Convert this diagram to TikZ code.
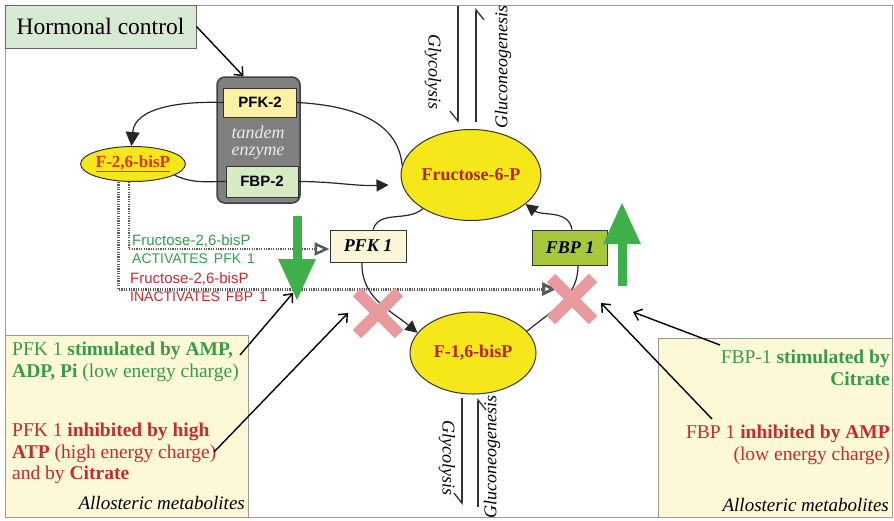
\documentclass[tikz,border=0pt]{standalone}
\usepackage{fontspec}
\setmainfont{Liberation Serif}
\setsansfont{Liberation Sans}
\usepackage{tikz}
\usetikzlibrary{arrows.meta,shapes.geometric,shapes.misc}
\definecolor{framegray}{HTML}{9A9A9A}
\definecolor{hormgreen}{HTML}{D7E9D2}
\definecolor{enzgray}{HTML}{808080}
\definecolor{pfkyellow}{HTML}{FBF1A6}
\definecolor{fbpgreen}{HTML}{D6EBC4}
\definecolor{metyellow}{HTML}{F6E71A}
\definecolor{bisred}{HTML}{E0301E}
\definecolor{sugarred}{HTML}{B8231A}
\definecolor{pfkcream}{HTML}{FAF6D8}
\definecolor{fbpolive}{HTML}{A5C83C}
\definecolor{crosspink}{HTML}{E89A9C}
\definecolor{upgreen}{HTML}{3DB04A}
\definecolor{txtgreen}{HTML}{3A9A4C}
\definecolor{txtred}{HTML}{C82A30}
\definecolor{notecream}{HTML}{FDF8D6}
\definecolor{dotgray}{HTML}{5A5A5A}

\begin{document}
\begin{tikzpicture}[x=1pt,y=-1pt,
  enzbox/.style={draw=black!80,line width=1pt,inner sep=0pt,font=\sffamily\bfseries\fontsize{15}{15}\selectfont},
  sugar/.style={ellipse,draw=black!80,line width=1pt,fill=metyellow,inner sep=0pt,text=sugarred,font=\bfseries\fontsize{18}{18}\selectfont},
  pfkbox/.style={draw=black!80,line width=1pt,inner sep=0pt,font=\bfseries\itshape\fontsize{18}{18}\selectfont},
  cyc/.style={black!85,line width=1.2pt},
  solidhead/.style={-{Triangle[length=12pt,width=12pt]}},
  pointer/.style={black,line width=1.4pt,-{Straight Barb[length=7pt,width=12pt]}},
  actline/.style={dotgray,line width=2.5pt,dash pattern=on 1.2pt off 1.2pt,-{Triangle[open,length=15pt,width=13pt]}},
  fatarrow/.style={upgreen,line width=9pt,-{Triangle[length=42pt,width=35pt]}},
  halfbarb/.style={black!80,line width=1.3pt,-{Straight Barb[harpoon,swap,length=10pt,width=16pt]}},
  crossmark/.style={cross out,draw=crosspink,line width=12pt,minimum size=30pt,inner sep=0pt},
  note/.style={draw=framegray,line width=1pt,fill=notecream},
  notetxt/.style={inner sep=0pt,font=\fontsize{19.5}{21.8}\selectfont},
  sanstxt/.style={anchor=base west,inner sep=0pt,font=\sffamily\fontsize{15}{15}\selectfont},
  capstxt/.style={anchor=base west,inner sep=0pt,font=\sffamily\fontsize{14}{14}\selectfont},
  pathlbl/.style={inner sep=0pt,font=\itshape\fontsize{18}{18}\selectfont}]
  \useasboundingbox (0,0) rectangle (894,520);
  \draw[framegray,line width=1pt] (5,5) rectangle (892,517);

  % allosteric boxes
  \draw[note] (5,335) rectangle (248,517);
  \draw[note] (658,338) rectangle (892,517);

  % hormonal control and the tandem enzyme
  \node[draw=black!60,line width=1pt,fill=hormgreen,minimum width=191pt,minimum height=43pt,
    font=\fontsize{23.5}{24}\selectfont] (hormone) at (100.5,26.5) {Hormonal control};
  \node[draw=black!75,line width=1.5pt,fill=enzgray,rounded corners=8pt,minimum width=83pt,
    minimum height=126pt] (tandem) at (258.5,140) {};
  \node[enzbox,fill=pfkyellow,minimum width=73pt,minimum height=29pt] (pfk2) at (260,102.5) {PFK-2};
  \node[enzbox,fill=fbpgreen,minimum width=72pt,minimum height=31pt] (fbp2) at (262,181.5) {FBP-2};
  \node[align=center,text=black!8,font=\itshape\fontsize{18}{17}\selectfont] (tandemlbl) at (258,143) {tandem\\enzyme};
  \node[sugar,minimum width=102pt,minimum height=35pt,text=bisred,
    font=\bfseries\fontsize{17}{17}\selectfont] (f26) at (133,164) {\underline{F-2,6-bisP}};

  % sugars and the two enzymes of the cycle
  \node[sugar,minimum width=126pt,minimum height=91pt] (f6p) at (471,175) {Fructose-6-P};
  \node[sugar,minimum width=126pt,minimum height=82pt] (f16p) at (473,353) {F-1,6-bisP};
  \node[pfkbox,fill=pfkcream,minimum width=76pt,minimum height=32pt] (pfk1) at (368,246) {PFK 1};
  \node[pfkbox,fill=fbpolive,minimum width=75pt,minimum height=35pt] (fbp1) at (570,247.5) {FBP 1};

  \coordinate (xlpos) at (378,313);
  \coordinate (xrpos) at (572,299);

  \draw[pointer] (hormone.east) -- ([xshift=-15pt]tandem.north);
  \draw[cyc,-{Triangle[length=14pt,width=14pt]}] (pfk2.west) to[out=178,in=85] (f26.95);
  \draw[cyc] (f26.-15) to[out=-25,in=180] (fbp2.west);
  \draw[cyc] (pfk2.east) to[out=-3,in=95] (f6p.172);
  \draw[cyc,solidhead] (fbp2.east) to[out=0,in=182] ([xshift=-12pt,yshift=-10pt]f6p.west);

  \draw[cyc] (f6p.215) to[out=221,in=71] ([xshift=5pt]pfk1.north);
  \draw[cyc,solidhead] ([xshift=-6pt]pfk1.south) to[out=268,in=140] (f16p.160);
  \draw[cyc] (f16p.22) to[out=40,in=270] ([xshift=8pt]fbp1.south);
  \draw[cyc,solidhead] ([xshift=2pt]fbp1.north) to[out=100,in=323] (f6p.-28);

  % F-2,6-bisP signals
  \draw[actline,line width=3pt] ([xshift=-15pt]f26.south) |- ([xshift=-15pt,yshift=10pt]xrpos);
  \draw[actline] ([xshift=-4pt]f26.south) |- ([yshift=-3pt]pfk1.west);
  \node[sanstxt,text=txtgreen] (actA) at (132,245) {Fructose-2,6-bisP};
  \node[capstxt,text=txtgreen] (actB) at (132,263) {ACTIVATES\hspace{6pt}PFK\hspace{6pt}1};
  \node[sanstxt,text=txtred] (inaA) at (130,283) {Fructose-2,6-bisP};
  \node[capstxt,text=txtred] (inaB) at (130,301) {INACTIVATES\hspace{6pt}FBP\hspace{6pt}1};

  % pathway directions
  \coordinate (glyAtop) at (458,6);   \coordinate (glyAbot) at (458,123);
  \coordinate (gngAbot) at (476,122); \coordinate (gngAtop) at (476,8);
  \coordinate (glyBtop) at (462,398); \coordinate (glyBbot) at (462,505);
  \coordinate (gngBbot) at (478,507); \coordinate (gngBtop) at (478,398);
  \draw[halfbarb] (glyAtop) -- (glyAbot);
  \draw[halfbarb] (gngAbot) -- (gngAtop);
  \draw[halfbarb] (glyBtop) -- (glyBbot);
  \draw[halfbarb] (gngBbot) -- (gngBtop);
  \node[pathlbl,rotate=-90] (glyAlbl) at (433,72) {Glycolysis};
  \node[pathlbl,rotate=90] (gngAlbl) at (503,67) {Gluconeogenesis};
  \node[pathlbl,rotate=-90] (glyBlbl) at (447,458) {Glycolysis};
  \node[pathlbl,rotate=90] (gngBlbl) at (492,457) {Gluconeogenesis};

  % activity up / down
  \coordinate (dntail) at (297,216); \coordinate (dntip) at (297,301);
  \coordinate (uptail) at (622,286); \coordinate (uptip) at (622,202);
  \draw[fatarrow] (dntail) -- (dntip);
  \draw[fatarrow] (uptail) -- (uptip);

  \node[crossmark] (xl) at (xlpos) {};
  \node[crossmark] (xr) at (xrpos) {};

  % allosteric metabolites
  \node[notetxt,anchor=north west,align=left,text=txtgreen] (pfkstim) at (12,342)
    {PFK 1 \textbf{stimulated by AMP,}\\\textbf{ADP, Pi} (low energy charge)};
  \node[notetxt,anchor=north west,align=left,text=txtred] (pfkinh) at (12,422.5)
    {PFK 1 \textbf{inhibited by high}\\\textbf{ATP} (high energy charge)\\and by \textbf{Citrate}};
  \node[notetxt,anchor=north east,align=right,text=txtgreen] (fbpstim) at (890,349.5)
    {FBP-1 \textbf{stimulated by}\\\textbf{Citrate}};
  \node[notetxt,anchor=north east,align=right,text=txtred] (fbpinh) at (890,425)
    {FBP 1 \textbf{inhibited by AMP}\\(low energy charge)};
  \node[pathlbl,anchor=base east,font=\itshape\fontsize{19}{19}\selectfont] (alloL) at (245,509) {Allosteric metabolites};
  \node[pathlbl,anchor=base east,font=\itshape\fontsize{19}{19}\selectfont] (alloR) at (889,511) {Allosteric metabolites};

  \coordinate (ampend) at (240,355);  \coordinate (atpend) at (214,452);
  \coordinate (citend) at (720,345);  \coordinate (amprend) at (712,419);
  \draw[pointer] (ampend) -- ([shift={(-4pt,8pt)}]dntip);
  \draw[pointer] (atpend) -- ([xshift=-9pt]xl.west);
  \draw[pointer] (citend) -- ([shift={(11pt,-26pt)}]uptail);
  \draw[pointer] (amprend) -- ([shift={(8pt,-4pt)}]xr.east);
\end{tikzpicture}
\end{document}
